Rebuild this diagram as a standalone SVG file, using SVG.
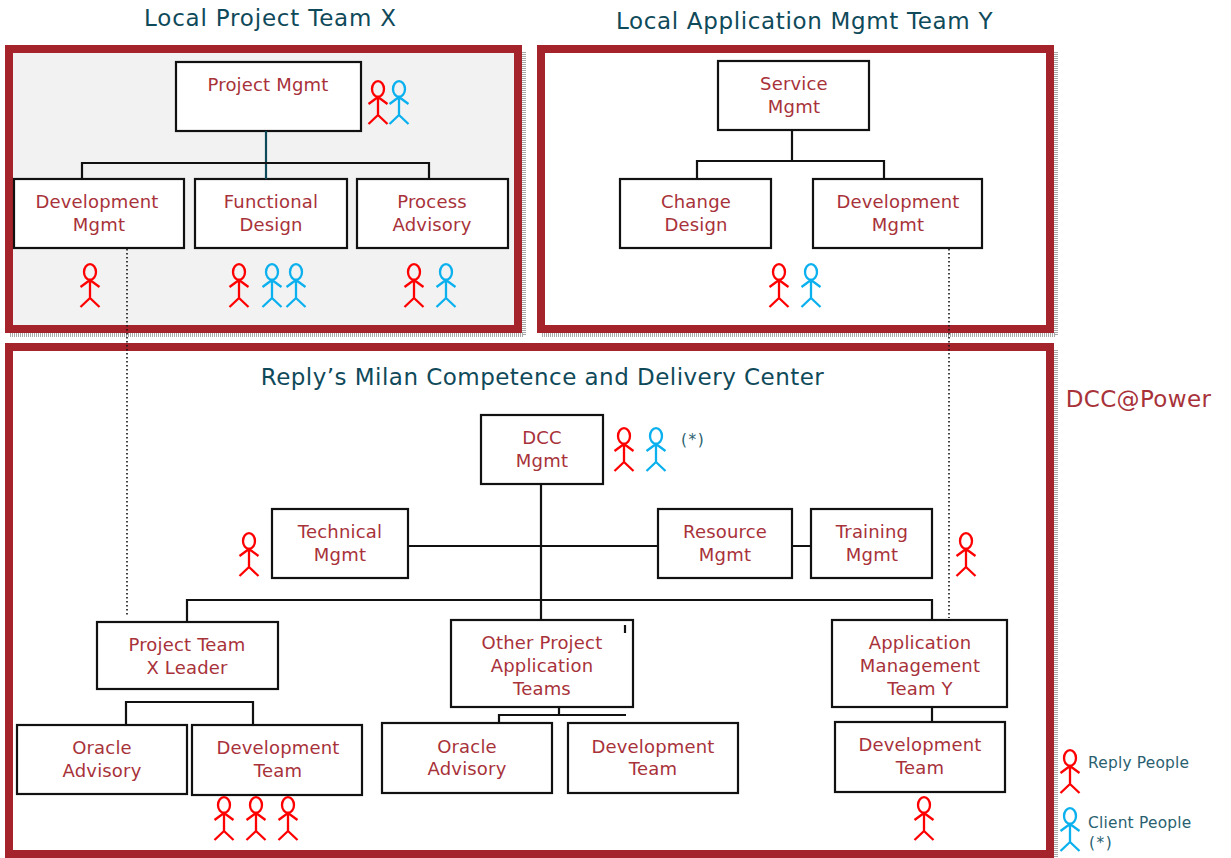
<svg xmlns="http://www.w3.org/2000/svg" width="1231" height="858" viewBox="0 0 1231 858">
<style>
text{font-family:"DejaVu Sans",Verdana,sans-serif;text-anchor:middle}
.t{font-size:18px;fill:#a8323a;letter-spacing:.18px}
.h{font-size:23px;fill:#0f4a5a;letter-spacing:.62px}
.s{font-size:15.4px;fill:#2a5f70;text-anchor:start;letter-spacing:.22px}
.b{fill:#fff;stroke:#111;stroke-width:2.2}
.f{fill:none;stroke:#a5232a;stroke-width:8}
.sh{fill:none;stroke:#a8a8a8;stroke-width:4;stroke-dasharray:1 1}
.c{fill:none;stroke:#111;stroke-width:2.2}
.d{fill:none;stroke:#111;stroke-width:1.6;stroke-dasharray:1.6 2.4}
.pr{fill:none;stroke:#f00;stroke-width:2.3}
.pb{fill:none;stroke:#0bb0ee;stroke-width:2.3}
</style>
<defs>
<g id="p"><ellipse cx="0" cy="8" rx="6" ry="7.8"/><path d="M0 15.5V34M-9.5 23L0 16L9.5 23M-9.5 43L0 34L9.5 43"/></g>
</defs>
<rect x="9" y="49" width="509" height="280" fill="#f2f2f2"/>
<g id="frames">
<path class="sh" d="M524 52V335H10M1056 52V335H542M1056 350V858"/>
<rect class="f" x="9" y="49" width="509" height="280"/>
<rect class="f" x="541" y="49" width="509" height="280"/>
<rect class="f" x="9" y="347" width="1041" height="507"/>
</g>
<g id="titles">
<text class="h" x="270.500" y="26" style="letter-spacing:.8px">Local Project Team X</text>
<text class="h" x="804.500" y="29" style="letter-spacing:.66px">Local Application Mgmt Team Y</text>
<text class="h" x="542.500" y="385" style="letter-spacing:.47px">Reply’s Milan Competence and Delivery Center</text>
<text x="1138.500" y="407" style="font-size:23px;fill:#a8323a;letter-spacing:.35px">DCC@Power</text>
</g>
<g id="n1"><rect class="b" x="176" y="62" width="185" height="69"/><text class="t" x="268" y="91">Project Mgmt</text></g>
<g id="n2"><rect class="b" x="14" y="179" width="170" height="69"/><text class="t" x="97" y="208">Development</text><text class="t" x="99" y="231">Mgmt</text></g>
<g id="n3"><rect class="b" x="195" y="179" width="152" height="69"/><text class="t" x="271" y="208">Functional</text><text class="t" x="271" y="231">Design</text></g>
<g id="n4"><rect class="b" x="357" y="179" width="151" height="69"/><text class="t" x="432" y="208">Process</text><text class="t" x="432" y="231">Advisory</text></g>
<g id="n5"><rect class="b" x="718" y="61" width="151" height="69"/><text class="t" x="794" y="90">Service</text><text class="t" x="794" y="113">Mgmt</text></g>
<g id="n6"><rect class="b" x="620" y="179" width="151" height="69"/><text class="t" x="696" y="208">Change</text><text class="t" x="696" y="231">Design</text></g>
<g id="n7"><rect class="b" x="813" y="179" width="169" height="69"/><text class="t" x="898" y="208">Development</text><text class="t" x="898" y="231">Mgmt</text></g>
<g id="n8"><rect class="b" x="481" y="415" width="122" height="69"/><text class="t" x="542" y="444">DCC</text><text class="t" x="542" y="467">Mgmt</text></g>
<g id="n9"><rect class="b" x="272" y="509" width="136" height="69"/><text class="t" x="340" y="538">Technical</text><text class="t" x="340" y="561">Mgmt</text></g>
<g id="n10"><rect class="b" x="658" y="509" width="134" height="69"/><text class="t" x="725" y="538">Resource</text><text class="t" x="725" y="561">Mgmt</text></g>
<g id="n11"><rect class="b" x="811" y="509" width="121" height="69"/><text class="t" x="872" y="538">Training</text><text class="t" x="872" y="561">Mgmt</text></g>
<g id="n12"><rect class="b" x="97" y="622" width="181" height="67"/><text class="t" x="187" y="651">Project Team</text><text class="t" x="187" y="674">X Leader</text></g>
<g id="n13"><rect class="b" x="451" y="620" width="182" height="87"/><text class="t" x="542" y="649">Other Project</text><text class="t" x="542" y="672">Application</text><text class="t" x="542" y="695">Teams</text></g>
<g id="n14"><rect class="b" x="832" y="620" width="175" height="87"/><text class="t" x="920" y="649">Application</text><text class="t" x="920" y="672">Management</text><text class="t" x="920" y="695">Team Y</text></g>
<g id="n15"><rect class="b" x="17" y="725" width="170" height="69"/><text class="t" x="102" y="754">Oracle</text><text class="t" x="102" y="777">Advisory</text></g>
<g id="n16"><rect class="b" x="192" y="725" width="170" height="70"/><text class="t" x="278" y="754">Development</text><text class="t" x="278" y="777">Team</text></g>
<g id="n17"><rect class="b" x="382" y="723" width="170" height="70"/><text class="t" x="467" y="753">Oracle</text><text class="t" x="467" y="775">Advisory</text></g>
<g id="n18"><rect class="b" x="568" y="723" width="170" height="70"/><text class="t" x="653" y="753">Development</text><text class="t" x="653" y="775">Team</text></g>
<g id="n19"><rect class="b" x="835" y="722" width="170" height="70"/><text class="t" x="920" y="751">Development</text><text class="t" x="920" y="774">Team</text></g>
<g id="connectors">
<path class="c" style="stroke:#0f4a5a" d="M266 131V179"/>
<path class="c" d="M82 179V163H429V179"/>
<path class="c" d="M792 130V161M697 179V161H884V179"/>
<path class="c" d="M541 484V620M408 546H658M792 546H811M187 622V600H932V620"/>
<path class="c" d="M126 725V702H253V725"/>
<path class="c" d="M559 707V715M499 723V715H626"/>
<path class="c" d="M625 625V633"/>
<path class="c" d="M932 707V722"/>
<path class="d" d="M127 249V616M949 249V618"/>
</g>
<g id="people">
<g class="pr"><use href="#p" x="378" y="81"/><use href="#p" x="90" y="264"/><use href="#p" x="239" y="264"/><use href="#p" x="414" y="264"/><use href="#p" x="779" y="264"/><use href="#p" x="624" y="428"/><use href="#p" x="249" y="533"/><use href="#p" x="966" y="533"/><use href="#p" x="224" y="797"/><use href="#p" x="256" y="797"/><use href="#p" x="288" y="797"/><use href="#p" x="924" y="797"/><use href="#p" x="1070" y="750"/></g>
<g class="pb"><use href="#p" x="399" y="81"/><use href="#p" x="272" y="264"/><use href="#p" x="296" y="264"/><use href="#p" x="446" y="264"/><use href="#p" x="811" y="264"/><use href="#p" x="656" y="428"/><use href="#p" x="1070" y="808"/></g>
</g>
<g id="notes">
<text class="s" x="681" y="445" style="letter-spacing:1.5px">(*)</text>
<text class="s" x="1088" y="768">Reply People</text>
<text class="s" x="1088" y="828">Client People</text>
<text class="s" x="1089" y="848" style="letter-spacing:1.5px">(*)</text>
</g>
</svg>
